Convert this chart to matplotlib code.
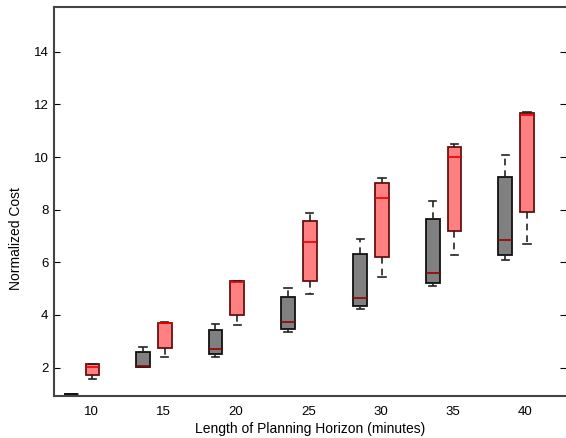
import matplotlib
matplotlib.use("Agg")
import matplotlib.pyplot as plt

# horizon lengths (minutes)
horizons = [10, 15, 20, 25, 30, 35, 40]

# gray series: box statistics
gray_lo = [1.0, 2.02, 2.42, 3.37, 4.23, 5.09, 6.08]
gray_q1 = [1.0, 2.04, 2.53, 3.46, 4.33, 5.22, 6.26]
gray_med = [1.0, 2.05, 2.72, 3.72, 4.64, 5.61, 6.83]
gray_q3 = [1.0, 2.60, 3.42, 4.68, 6.33, 7.63, 9.25]
gray_hi = [1.0, 2.79, 3.67, 5.02, 6.88, 8.34, 10.06]

# red series
red_lo = [1.58, 2.42, 3.60, 4.80, 5.45, 6.26, 6.70]
red_q1 = [1.70, 2.75, 4.00, 5.29, 6.20, 7.18, 7.90]
red_med = [2.04, 3.68, 5.27, 6.79, 8.45, 10.01, 11.58]
red_q3 = [2.15, 3.70, 5.29, 7.56, 9.03, 10.38, 11.67]
red_hi = [2.15, 3.74, 5.29, 7.86, 9.22, 10.50, 11.71]


def make_stats(lo, q1, med, q3, hi):
    return [dict(whislo=a, q1=b, med=c, q3=d, whishi=e, fliers=[])
            for a, b, c, d, e in zip(lo, q1, med, q3, hi)]


fig = plt.figure(figsize=(5.66, 4.38), dpi=100)
ax = fig.add_axes([54 / 566, (438 - 396) / 438, 1 - 54 / 566, (396 - 7) / 438])
plt.rcParams['font.family'] = ['Liberation Sans', 'DejaVu Sans']

gray_pos = [h - 1.4 for h in horizons]
red_pos = [h + 0.1 for h in horizons]

g = ax.bxp(make_stats(gray_lo, gray_q1, gray_med, gray_q3, gray_hi), positions=gray_pos,
           widths=0.95, patch_artist=True, showfliers=False, manage_ticks=False,
           boxprops=dict(facecolor='#808080', edgecolor='#111111', linewidth=1.3),
           medianprops=dict(color='#990000', linewidth=1.2),
           whiskerprops=dict(color='#222222', linestyle=(0, (4, 3)), linewidth=1.2),
           capprops=dict(color='#222222', linewidth=1.2), capwidths=0.5)
# the collapsed box at 10 min shows as a plain black bar
g['medians'][0].set_color('#111111')
g['medians'][0].set_linewidth(1.8)

ax.bxp(make_stats(red_lo, red_q1, red_med, red_q3, red_hi), positions=red_pos,
       widths=0.95, patch_artist=True, showfliers=False, manage_ticks=False,
       boxprops=dict(facecolor='#ff8080', edgecolor='#661111', linewidth=1.3),
       medianprops=dict(color='#ee0000', linewidth=1.2),
       whiskerprops=dict(color='#222222', linestyle=(0, (4, 3)), linewidth=1.2),
       capprops=dict(color='#222222', linewidth=1.2), capwidths=0.5)

ax.set_xlim(7.45, 42.8)
ax.set_ylim(0.92, 15.7)
ax.set_xticks(horizons)
ax.set_xticklabels([str(h) for h in horizons], fontsize=9.5, family=['Liberation Sans'])
ax.set_yticks([2, 4, 6, 8, 10, 12, 14])
ax.set_yticklabels(['2', '4', '6', '8', '10', '12', '14'], fontsize=9.5, family=['Liberation Sans'])
ax.tick_params(axis='x', length=0, pad=7)
ax.tick_params(axis='y', direction='in', length=4, right=True, pad=4)
for s in ax.spines.values():
    s.set_color('#444444')
    s.set_linewidth(1.5)
ax.spines['right'].set_visible(False)

ax.set_xlabel('Length of Planning Horizon (minutes)', fontsize=10, family=['Liberation Sans'], labelpad=3)
ax.set_ylabel('Normalized Cost', fontsize=10, family=['Liberation Sans'])
ax.yaxis.set_label_coords(-0.06, 0.406)

fig.savefig('out.png', dpi=100)
